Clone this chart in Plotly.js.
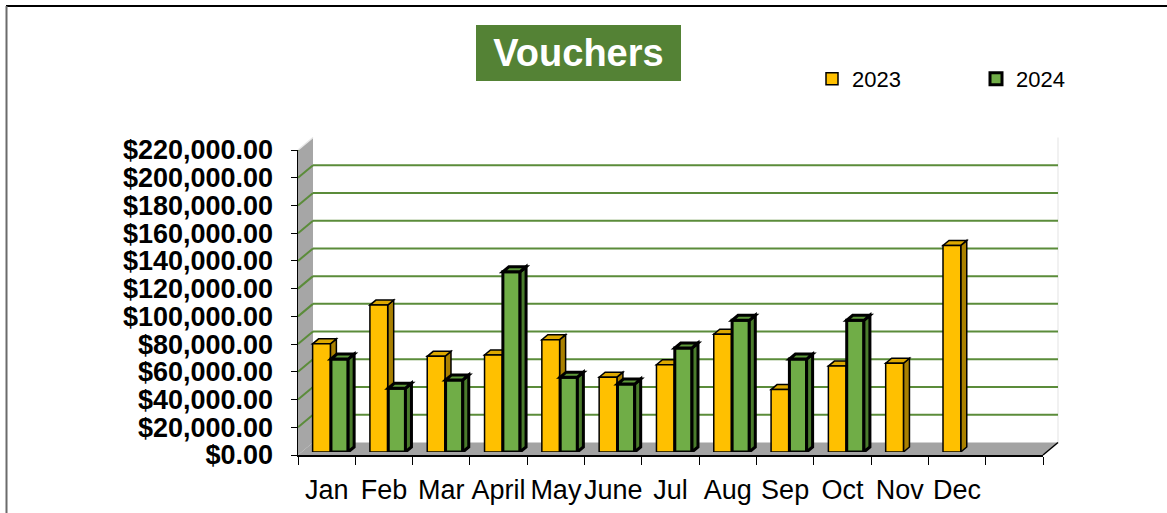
<!DOCTYPE html>
<html>
<head>
<meta charset="utf-8">
<script src="https://cdn.plot.ly/plotly-3.0.1.min.js"></script>
<style>html,body{margin:0;padding:0;background:#fff;}#chart{width:1167px;height:513px;}</style>
</head>
<body>
<div id="chart"></div>
<script>
// ---- data ----
const months = ['Jan','Feb','Mar','April','May','June','Jul','Aug','Sep','Oct','Nov','Dec'];
const values2023 = [78000, 106000, 69000, 70000, 81000, 54000, 63000, 85000, 45000, 62000, 64000, 149000];
const months2024 = ['Jan','Feb','Mar','April','May','June','Jul','Aug','Sep','Oct'];
const values2024 = [67000, 46000, 52000, 130000, 54000, 49000, 75000, 95000, 67000, 95000];
const yTickVals = [0, 20000, 40000, 60000, 80000, 100000, 120000, 140000, 160000, 180000, 200000, 220000];
const seriesNames = ['2023', '2024'];
const chartTitle = 'Vouchers';

// ---- geometry (layout only) ----
const W = 1167, H = 513;
const PL = 298, PT = 137, PW = 761, PH = 318, PB = PT + PH;
const fx = px => (px - PL) / PW;
const fy = py => (PB - py) / PH;
const FRONT_R = 1043, FRONT_T = 150;
const WALL_DX = 15, WALL_DY = 12.5;
const YMAX = 220000, NSLOT = 13;
const frontWpx = FRONT_R - PL, frontHpx = PB - FRONT_T;
const BAR_DX = 6, BAR_DY = 5;
const dxD = BAR_DX * NSLOT / frontWpx;
const dyD = BAR_DY * YMAX / frontHpx;

const C23 = {front:'#FFC000', top:'#DDA800', side:'#A98000', lw:1.5};
const C24 = {front:'#70AD47', top:'#5E9A3A', side:'#4A7C2C', lw:3};
const GRID = '#5B8C3A';
const off23 = -0.245, w23 = 0.31, off24 = 0.075, w24 = 0.3;

const traces = [
  {type:'bar', name:seriesNames[0], x:months, y:values2023, xaxis:'x3', yaxis:'y3',
   offset:off23, width:w23, marker:{color:C23.front, line:{color:'#000', width:C23.lw}}, hoverinfo:'skip'},
  {type:'bar', name:seriesNames[1], x:months2024, y:values2024, xaxis:'x3', yaxis:'y3',
   offset:off24, width:w24, marker:{color:C24.front, line:{color:'#000', width:C24.lw}}, hoverinfo:'skip'}
];

const shapes = [];
// frame
shapes.push({type:'line', xref:'paper', yref:'paper', x0:fx(6), x1:fx(W+2), y0:fy(6), y1:fy(6), line:{color:'#000', width:2}, layer:'below'});
shapes.push({type:'line', xref:'paper', yref:'paper', x0:fx(6.5), x1:fx(6.5), y0:fy(6), y1:fy(H+2), line:{color:'#6b6b6b', width:2}, layer:'below'});
// title box
shapes.push({type:'rect', xref:'paper', yref:'paper', x0:fx(476), x1:fx(681), y0:fy(25), y1:fy(81), fillcolor:'#548235', line:{width:0}, layer:'below'});
// left wall
shapes.push({type:'path', xref:'paper', yref:'paper', layer:'below', fillcolor:'#A6A6A6', line:{width:0},
  path:`M${fx(PL)},${fy(PB)} L${fx(PL)},${fy(FRONT_T)} L${fx(PL+WALL_DX)},${fy(FRONT_T-WALL_DY)} L${fx(PL+WALL_DX)},${fy(PB-WALL_DY)} Z`});
// floor
shapes.push({type:'path', xref:'paper', yref:'paper', layer:'below', fillcolor:'#A3A3A3', line:{width:0},
  path:`M${fx(PL)},${fy(PB)} L${fx(FRONT_R)},${fy(PB)} L${fx(FRONT_R+WALL_DX)},${fy(PB-WALL_DY)} L${fx(PL+WALL_DX)},${fy(PB-WALL_DY)} Z`});
// back wall right edge
shapes.push({type:'line', xref:'paper', yref:'paper', layer:'below', x0:fx(FRONT_R+WALL_DX), x1:fx(FRONT_R+WALL_DX), y0:fy(PB-WALL_DY), y1:fy(FRONT_T-WALL_DY), line:{color:'#E3E3E3', width:1}});
// top edge of left wall
shapes.push({type:'line', xref:'paper', yref:'paper', layer:'below', x0:fx(PL), x1:fx(PL+WALL_DX), y0:fy(FRONT_T), y1:fy(FRONT_T-WALL_DY), line:{color:'#E8E8E8', width:1.5}});
// floor right edge
shapes.push({type:'line', xref:'paper', yref:'paper', layer:'below', x0:fx(FRONT_R), x1:fx(FRONT_R+WALL_DX), y0:fy(PB), y1:fy(PB-WALL_DY), line:{color:'#000', width:1.5}});
// gridlines: across the left wall and along the back wall, placed from the y-axis tick values
yTickVals.slice(1).forEach(v => {
  shapes.push({type:'line', xref:'paper', yref:'y2', ysizemode:'pixel', yanchor:v, layer:'below',
    x0:0, x1:fx(PL+WALL_DX), y0:0, y1:WALL_DY, line:{color:GRID, width:2}});
  shapes.push({type:'line', xref:'paper', yref:'y2', ysizemode:'pixel', yanchor:v, layer:'below',
    x0:fx(PL+WALL_DX), x1:fx(FRONT_R+WALL_DX), y0:WALL_DY, y1:WALL_DY, line:{color:GRID, width:2}});
});
// 3D faces of the bars
function faces(xcat, v, off, w, c, layer) {
  const x0 = xcat + off, x1 = x0 + w;
  shapes.push({type:'path', xref:'x3', yref:'y3', layer:layer, fillcolor:c.side, line:{color:'#000', width:c.lw},
    path:`M${x1},0 L${x1},${v} L${x1+dxD},${v+dyD} L${x1+dxD},${dyD} Z`});
  shapes.push({type:'path', xref:'x3', yref:'y3', layer:layer, fillcolor:c.top, line:{color:'#000', width:c.lw},
    path:`M${x0},${v} L${x1},${v} L${x1+dxD},${v+dyD} L${x0+dxD},${v+dyD} Z`});
}
values2023.forEach((v, i) => faces(months.indexOf(months[i]), v, off23, w23, C23, 'below'));
values2024.forEach((v, i) => faces(months.indexOf(months2024[i]), v, off24, w24, C24, 'above'));

const layout = {
  width: W, height: H,
  margin: {l: PL, r: W - PL - PW, t: PT, b: H - PB, pad: 0},
  paper_bgcolor: '#fff', plot_bgcolor: 'rgba(0,0,0,0)',
  showlegend: true,
  title: {text: chartTitle, xref:'container', yref:'container', x: 578.5 / W, y: 1 - 53 / H,
          xanchor:'center', yanchor:'middle',
          font: {family:'Liberation Sans, Arial, sans-serif', size: 38, color:'#fff', weight:'bold'}},
  legend: {orientation:'h', x: fx(812), y: fy(79), xanchor:'left', yanchor:'middle',
           bgcolor:'rgba(0,0,0,0)', entrywidth: 119, traceorder:'normal',
           font:{family:'Liberation Sans, Arial, sans-serif', size:22, color:'#000'}},
  // front labelled axes
  xaxis2: {domain:[0, fx(FRONT_R)], anchor:'y2', range:[-0.5, NSLOT-0.5], tickmode:'array',
           tickvals: months.map((m, i) => i), ticktext: months, ticks:'', showgrid:false, zeroline:false,
           showline:true, linecolor:'#000', linewidth:1.5, ticklabelstandoff: 10, tickangle:0,
           minor:{tick0:-0.5, dtick:1, ticks:'outside', ticklen:8, tickcolor:'#000', tickwidth:1, showgrid:false},
           tickfont:{family:'Liberation Sans, Arial, sans-serif', size:27, color:'#000'}, fixedrange:true},
  yaxis2: {domain:[0, fy(FRONT_T)], anchor:'x2', range:[0, YMAX], tickmode:'array', tickvals:yTickVals, tickformat:'$,.2f',
           ticks:'outside', ticklen:6, tickcolor:'#000', tickwidth:1, showline:true, linecolor:'#000', linewidth:1.5,
           showgrid:false, zeroline:false, ticklabelstandoff: 12,
           tickfont:{family:'Liberation Sans, Arial, sans-serif', size:27, color:'#000', weight:'bold'}, fixedrange:true},
  // bars
  xaxis3: {domain:[0, fx(FRONT_R)], anchor:'y3', type:'category', categoryorder:'array', categoryarray:months,
           range:[-0.5, NSLOT-0.5], visible:false, fixedrange:true},
  yaxis3: {domain:[fy(PB-3), fy(FRONT_T-3)], anchor:'x3', range:[0, YMAX], visible:false, fixedrange:true},
  shapes: shapes,
  bargap: 0
};

Plotly.newPlot('chart', traces, layout, {staticPlot:true, displayModeBar:false});
</script>
</body>
</html>
